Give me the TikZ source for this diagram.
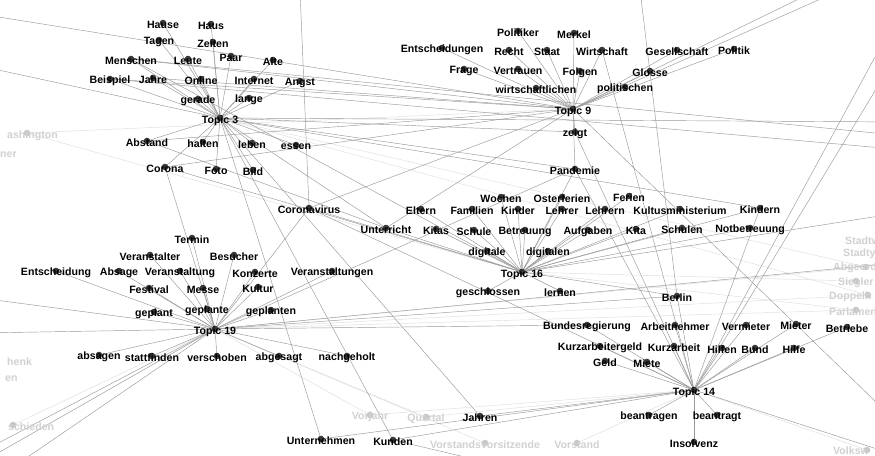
\documentclass[tikz,border=0pt]{standalone}
\usepackage{fontspec}
\setmainfont{Liberation Sans}
\begin{document}
\begin{tikzpicture}[x=1pt,y=-1pt,
  lbl/.style={font=\fontsize{10.6}{12}\selectfont\bfseries,text=black,inner sep=0pt},
  flbl/.style={font=\fontsize{10.6}{12}\selectfont\bfseries,text=black!18,inner sep=0pt},
  dotc/.style={fill=black!78},
  fdot/.style={fill=black!22},
  edge/.style={draw=black!40,line width=0.45pt},
  ledge/.style={draw=black!13,line width=0.45pt}]
\useasboundingbox (0,0) rectangle (875,455);
\fill[white] (0,0) rectangle (875,455);
\clip (0,0) rectangle (875,455);
% ---------- word lists ----------
\def\wordsA{Hause/163/25,Haus/211/26,Tagen/159/42,Zeiten/213/44,Menschen/131/61,Leute/188/61,Paar/231/58,Alte/273/62,Beispiel/110/81,Jahre/153/80,Online/201/81,Internet/254/81,Angst/300/83,gerade/198/101,lange/249/100,Abstand/147/143,halten/203/144,leben/252/145,essen/296/147,Corona/165/169,Foto/216/171,Bild/253/172}
\def\wordsB{Politiker/518/33,Merkel/574/35,Entscheidungen/442/50,Recht/509/52,Staat/547/52,Wirtschaft/602/52,Gesellschaft/677/52,Politik/734/51,Frage/464/71,Vertrauen/518/71,Folgen/580/73,Glosse/650/73,wirtschaftlichen/536/90,politischen/625/89,zeigt/575/134,Pandemie/575/171}
\def\wordsC{Wochen/501/199,Osterferien/562/199,Ferien/629/198,Eltern/421/211,Familien/472/211,Kinder/518/211,Lehrer/562/211,Lehrern/605/211,Kultusministerium/680/211,Kindern/760/210,Unterricht/386/230,Kitas/436/231,Schule/474/232,Betreuung/525/232,Aufgaben/588/232,Kita/636/231,Schulen/682/230,Notbetreuung/750/230,digitale/487/253,digitalen/548/253,geschlossen/488/293,lernen/560/293,Coronavirus/309/210}
\def\wordsD{Termin/192/240,Veranstalter/150/257,Besucher/234/257,Entscheidung/56/273,Absage/119/273,Veranstaltung/180/273,Konzerte/255/274,Veranstaltungen/332/273,Festival/149/290,Messe/203/290,Kultur/258/289,geplant/154/314,geplante/207/311,geplanten/271/312,absagen/99/357,stattfinden/152/358,verschoben/217/358,abgesagt/279/358,nachgeholt/347/358}
\def\wordsE{Berlin/677/298,Bundesregierung/587/327,Arbeitnehmer/675/327,Vermieter/746/327,Mieter/796/326,Betriebe/847/329,Kurzarbeitergeld/600/348,Kurzarbeit/674/348,Hilfen/722/350,Bund/755/350,Hilfe/794/350,Geld/605/363,Miete/647/364,beantragen/649/417,beantragt/717/417,Insolvenz/694/444,Jahren/480/418,Unternehmen/321/441,Kunden/393/442}
\def\topics{T3/220/121/3,T9/573/112/9,T16/522/275/16,T19/215/332/19,T14/694/393/14}
\def\faded{Vorjahr/370/417,Quartal/426/419,Vorstandsvorsitzende/485/445,Vorstand/577/445}
% ---------- coordinates ----------
\foreach \n/\x/\y in \wordsA {\coordinate (\n) at (\x,\y-2);}
\foreach \n/\x/\y in \wordsB {\coordinate (\n) at (\x,\y-2);}
\foreach \n/\x/\y in \wordsC {\coordinate (\n) at (\x,\y-2);}
\foreach \n/\x/\y in \wordsD {\coordinate (\n) at (\x,\y-2);}
\foreach \n/\x/\y in \wordsE {\coordinate (\n) at (\x,\y-2);}
\foreach \n/\x/\y/\t in \topics {\coordinate (\n) at (\x,\y-3);}
\foreach \n/\x/\y in \faded {\coordinate (\n) at (\x,\y-2);}
\coordinate (Washington) at (27,133);
\coordinate (schieden) at (13,425);
\coordinate (Abgeord) at (866,267);
\coordinate (Siegler) at (856,281);
\coordinate (Doppelh) at (868,295);
\coordinate (Parlamen) at (856,310);
\coordinate (Volksw) at (867,450);
% off-picture end points
\coordinate (oR1) at (905,136);
\coordinate (oR2) at (905,150);
\coordinate (oR3) at (905,122);
\coordinate (oTR1) at (870,-23);
\coordinate (oTR2) at (848,-25);
\coordinate (oTR3) at (930,0);
\coordinate (oTR4) at (906,0);
\coordinate (oLL1) at (-30,469);
\coordinate (oLL2) at (-6,480);
\coordinate (oLL3) at (-30,458);
\coordinate (oL1) at (-20,298);
\coordinate (oL2) at (-20,333);
\coordinate (oTL1) at (-20,14);
\coordinate (oTL2) at (-20,66);
\coordinate (oRB1) at (905,430);
\coordinate (oRB2) at (905,458);
\coordinate (oRM1) at (905,212);
\coordinate (oRM2) at (905,262);
\coordinate (oT1) at (640,-10);
\coordinate (oT2) at (300,-10);
\coordinate (oB1) at (520,470);
% ---------- faint edges ----------
\foreach \a/\b in {Abgeord/T19,Parlamen/T19,Siegler/T16,Doppelh/T3,Vorjahr/T14,Quartal/T14,Vorstand/T14,Vorstandsvorsitzende/T19,schieden/T19,Washington/T9,Volksw/T14,Abgeord/T3,Parlamen/T16,Doppelh/T19,Vorjahr/T19,Quartal/T19,Washington/T16}
  \draw[ledge] (\a) -- (\b);
% ---------- cluster edges ----------
\foreach \n/\x/\y in \wordsA {\draw[edge] (T3) -- (\n);}
\foreach \n/\x/\y in \wordsB {\draw[edge] (T9) -- (\n);}
\foreach \n/\x/\y in \wordsC {\draw[edge] (T16) -- (\n);}
\foreach \n/\x/\y in \wordsD {\draw[edge] (T19) -- (\n);}
\foreach \n/\x/\y in \wordsE {\draw[edge] (T14) -- (\n);}
% ---------- cross edges ----------
\foreach \a/\b in {T9/Menschen,T9/Beispiel,T9/Jahre,T9/Abstand,T9/Corona,T9/Coronavirus,T9/Unterricht,T9/oRB1,T9/oTR1,T9/oTR2,T9/oTL1,
  T3/Pandemie,T3/Unterricht,T3/Kindern,T3/zeigt,T3/oR3,T3/oTL2,T3/Jahren,T3/Kunden,T3/Unternehmen,
  T19/Pandemie,T19/Coronavirus,T19/Berlin,T19/Corona,T19/Bundesregierung,T19/oLL1,T19/oLL2,T19/oLL3,T19/oL1,T19/oL2,T19/oRM2,
  T16/Pandemie,T16/Berlin,T16/Corona,T16/oRM1,T16/Menschen,
  T14/Pandemie,T14/Coronavirus,T14/Wirtschaft,T14/zeigt,T14/oTR3,T14/oTR4,T14/oRB2,T14/Kindern,
  Menschen/oR1,Beispiel/oR2,Coronavirus/oT2,Berlin/oT1,Kunden/oB1,Abstand/Unterricht}
  \draw[edge] (\a) -- (\b);
% ---------- dots ----------
\foreach \n/\x/\y in \wordsA {\fill[dotc] (\n) circle[radius=3.3pt];}
\foreach \n/\x/\y in \wordsB {\fill[dotc] (\n) circle[radius=3.3pt];}
\foreach \n/\x/\y in \wordsC {\fill[dotc] (\n) circle[radius=3.3pt];}
\foreach \n/\x/\y in \wordsD {\fill[dotc] (\n) circle[radius=3.3pt];}
\foreach \n/\x/\y in \wordsE {\fill[dotc] (\n) circle[radius=3.3pt];}
\foreach \n/\x/\y/\t in \topics {\fill[dotc] (\n) circle[radius=3.3pt];}
\foreach \n/\x/\y in \faded {\fill[fdot] (\n) circle[radius=3.3pt];}
\foreach \n in {Washington,schieden,Abgeord,Siegler,Doppelh,Parlamen,Volksw} {\fill[fdot] (\n) circle[radius=3.3pt];}
% ---------- labels ----------
\foreach \n/\x/\y in \wordsA {\node[lbl] (l-\n) at (\x,\y) {\n};}
\foreach \n/\x/\y in \wordsB {\node[lbl] (l-\n) at (\x,\y) {\n};}
\foreach \n/\x/\y in \wordsC {\node[lbl] (l-\n) at (\x,\y) {\n};}
\foreach \n/\x/\y in \wordsD {\node[lbl] (l-\n) at (\x,\y) {\n};}
\foreach \n/\x/\y in \wordsE {\node[lbl] (l-\n) at (\x,\y) {\n};}
\foreach \n/\x/\y/\t in \topics {\node[lbl] (l-\n) at (\x,\y) {Topic \t};}
\foreach \n/\x/\y in \faded {\node[flbl] (l-\n) at (\x,\y) {\n};}
\node[flbl,anchor=west] (l-Washington) at (7,136) {ashington};
\node[flbl,anchor=west] (l-ner) at (0,155) {ner};
\node[flbl,anchor=west] (l-henk) at (7,362) {henk};
\node[flbl,anchor=west] (l-en) at (5,379) {en};
\node[flbl,anchor=west] (l-schieden) at (8,427) {schieden};
\node[flbl,anchor=west] (l-Stadtw) at (845,241) {Stadtw};
\node[flbl,anchor=west] (l-Stadty) at (843,254) {Stadty};
\node[flbl,anchor=west] (l-Abgeord) at (833,268) {Abgeord};
\node[flbl,anchor=west] (l-Siegler) at (838,283) {Siegler};
\node[flbl,anchor=west] (l-Doppelh) at (829,297) {Doppelh};
\node[flbl,anchor=west] (l-Parlamen) at (829,312) {Parlamen};
\node[flbl,anchor=west] (l-Volksw) at (833,451) {Volksw};
\end{tikzpicture}
\end{document}
